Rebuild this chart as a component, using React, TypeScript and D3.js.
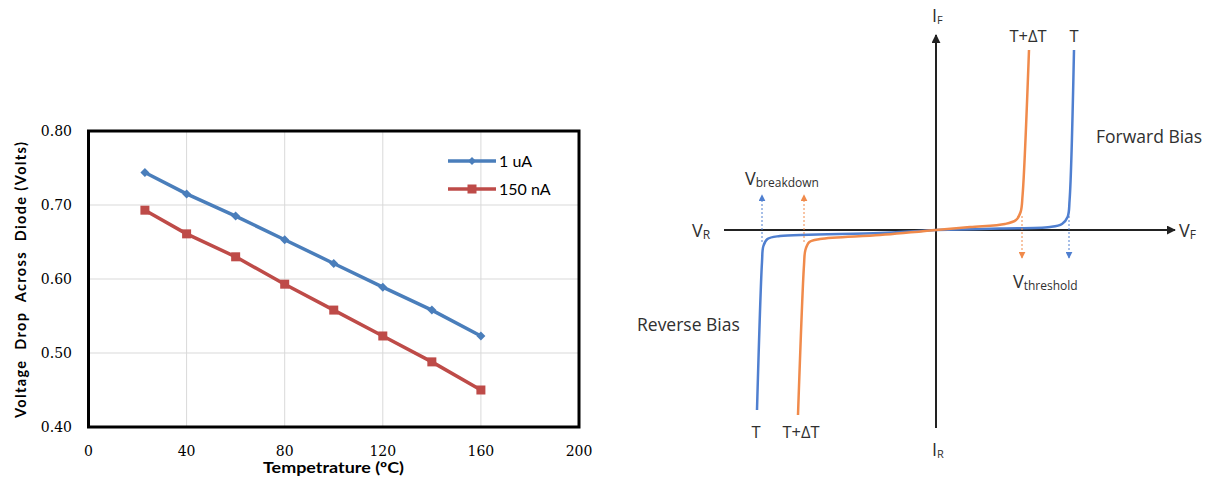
import React from "react";
import * as d3 from "d3";

// ---- Left chart data ----
const temps = [23, 40, 60, 80, 100, 120, 140, 160];
const v1uA = [0.744, 0.715, 0.685, 0.653, 0.621, 0.589, 0.558, 0.523];
const v150nA = [0.693, 0.661, 0.63, 0.593, 0.558, 0.523, 0.488, 0.45];
const xTicks = [0, 40, 80, 120, 160, 200];
const yTicks = [0.4, 0.5, 0.6, 0.7, 0.8];
const seriesNames = ["1 uA", "150 nA"];

// ---- Right diagram data (normalized V, I) ----
const blueForward: [number, number][] = [
  [0, 0], [0.32, 0.0075], [0.57, 0.015], [0.63, 0.03], [0.658, 0.065], [0.668, 0.15], [0.69, 0.9],
];
const orangeForward: [number, number][] = [
  [0, 0], [0.17, 0.015], [0.345, 0.03], [0.4, 0.05], [0.423, 0.09], [0.433, 0.175], [0.465, 0.9],
];
const blueReverse: [number, number][] = [
  [0, 0], [-0.28, -0.015], [-0.78, -0.03], [-0.843, -0.045], [-0.863, -0.08], [-0.87, -0.16], [-0.895, -0.9],
];
const orangeReverse: [number, number][] = [
  [0, 0], [-0.28, -0.025], [-0.58, -0.045], [-0.633, -0.06], [-0.653, -0.1], [-0.66, -0.175], [-0.69, -0.925],
];
const breakdownV = [-0.87, -0.66];
const thresholdV = [0.43, 0.665];

const BLUE = "#4a7ebb";
const RED = "#be4b48";
const DBLUE = "#4f7fd0";
const DORANGE = "#f08a4b";
const TXT = "#303030";
const SERIF = "'DejaVu Serif', 'Liberation Serif', serif";

export default function App() {
  // left scales
  const x = d3.scaleLinear().domain([0, 200]).range([88.5, 579]);
  const y = d3.scaleLinear().domain([0.4, 0.8]).range([427, 131]);
  const line = d3
    .line<[number, number]>()
    .x((d) => x(d[0]))
    .y((d) => y(d[1]));
  const s1 = temps.map((t, i) => [t, v1uA[i]] as [number, number]);
  const s2 = temps.map((t, i) => [t, v150nA[i]] as [number, number]);

  // right scales
  const rx = d3.scaleLinear().domain([-1, 1]).range([736, 1136]);
  const ry = d3.scaleLinear().domain([-1, 1]).range([430, 30]);
  const curve = d3
    .line<[number, number]>()
    .x((d) => rx(d[0]))
    .y((d) => ry(d[1]))
    .curve(d3.curveCatmullRom.alpha(0.5));

  const diamond = (cx: number, cy: number, r: number) =>
    `M${cx},${cy - r}L${cx + r},${cy}L${cx},${cy + r}L${cx - r},${cy}Z`;

  return (
    <svg
      width={1209}
      height={480}
      style={{ position: "absolute", left: 0, top: 0, background: "#fff" }}
    >
      <rect x={0} y={0} width={1209} height={480} fill="#fff" />
      {/* ===== Left chart ===== */}
      {xTicks.slice(1, -1).map((t) => (
        <line key={"gx" + t} x1={x(t)} x2={x(t)} y1={y(0.4)} y2={y(0.8)} stroke="#d9d9d9" strokeWidth={1} />
      ))}
      {yTicks.slice(1, -1).map((t) => (
        <line key={"gy" + t} x1={x(0)} x2={x(200)} y1={y(t)} y2={y(t)} stroke="#d9d9d9" strokeWidth={1} />
      ))}
      <path d={line(s1) || ""} fill="none" stroke={BLUE} strokeWidth={3.5} strokeLinejoin="round" />
      <path d={line(s2) || ""} fill="none" stroke={RED} strokeWidth={3.5} strokeLinejoin="round" />
      {s1.map((d, i) => (
        <path key={"m1" + i} d={diamond(x(d[0]), y(d[1]), 4.5)} fill={BLUE} />
      ))}
      {s2.map((d, i) => (
        <rect key={"m2" + i} x={x(d[0]) - 4.5} y={y(d[1]) - 4.5} width={9} height={9} fill={RED} />
      ))}
      <rect x={x(0)} y={y(0.8)} width={x(200) - x(0)} height={y(0.4) - y(0.8)} fill="none" stroke="#000" strokeWidth={3} />
      {yTicks.map((t) => (
        <text key={"yt" + t} x={72} y={y(t)} dy="0.35em" textAnchor="end" style={{ fontFamily: SERIF }} fontSize={14} fill="#000">
          {t.toFixed(2)}
        </text>
      ))}
      {xTicks.map((t) => (
        <text key={"xt" + t} x={x(t)} y={456} textAnchor="middle" style={{ fontFamily: SERIF }} fontSize={14} fill="#000">
          {t}
        </text>
      ))}
      <text x={333.5} y={473} textAnchor="middle" fontFamily="Lato" fontWeight="bold" fontSize={15} textLength={141} lengthAdjust="spacingAndGlyphs" fill="#000">
        Tempetrature (ºC)
      </text>
      <text
        transform="translate(26,280) rotate(-90)"
        textAnchor="middle"
        fontFamily="Lato"
        fontWeight="bold"
        fontSize={14.5}
        textLength={276}
        lengthAdjust="spacing"
        fill="#000"
        style={{ whiteSpace: "pre" }}
      >
        {"Voltage  Drop  Across  Diode (Volts)"}
      </text>
      {/* legend */}
      <line x1={448} x2={496} y1={161} y2={161} stroke={BLUE} strokeWidth={3.5} />
      <path d={diamond(472, 161, 4)} fill={BLUE} />
      <text x={499} y={161} dy="0.35em" fontFamily="Lato" fontSize={16} fill="#000">{seriesNames[0]}</text>
      <line x1={448} x2={496} y1={189} y2={189} stroke={RED} strokeWidth={3.5} />
      <rect x={467.5} y={184.5} width={9} height={9} fill={RED} />
      <text x={499} y={189} dy="0.35em" fontFamily="Lato" fontSize={16} fill="#000">{seriesNames[1]}</text>

      {/* ===== Right diagram ===== */}
      <defs>
        <marker id="axArrow" viewBox="0 0 10 10" refX={9} refY={5} markerWidth={9} markerHeight={9} markerUnits="userSpaceOnUse" orient="auto">
          <path d="M0,0L10,5L0,10Z" fill="#222" />
        </marker>
        <marker id="bArrow" viewBox="0 0 10 10" refX={9} refY={5} markerWidth={7} markerHeight={7} markerUnits="userSpaceOnUse" orient="auto">
          <path d="M0,0L10,5L0,10Z" fill={DBLUE} />
        </marker>
        <marker id="oArrow" viewBox="0 0 10 10" refX={9} refY={5} markerWidth={7} markerHeight={7} markerUnits="userSpaceOnUse" orient="auto">
          <path d="M0,0L10,5L0,10Z" fill={DORANGE} />
        </marker>
      </defs>
      <line x1={rx(-1.06)} x2={rx(1.195)} y1={ry(0)} y2={ry(0)} stroke="#222" strokeWidth={2} markerEnd="url(#axArrow)" />
      <line x1={rx(0)} x2={rx(0)} y1={ry(-0.99)} y2={ry(0.975)} stroke="#222" strokeWidth={2} markerEnd="url(#axArrow)" />

      <path d={curve(blueForward) || ""} fill="none" stroke={DBLUE} strokeWidth={2.5} />
      <path d={curve(blueReverse) || ""} fill="none" stroke={DBLUE} strokeWidth={2.5} />
      <path d={curve(orangeForward) || ""} fill="none" stroke={DORANGE} strokeWidth={2.5} />
      <path d={curve(orangeReverse) || ""} fill="none" stroke={DORANGE} strokeWidth={2.5} />

      {/* breakdown arrows */}
      {breakdownV.map((v, i) => (
        <line key={"bd" + i} x1={rx(v)} x2={rx(v)} y1={ry(-0.06)} y2={ry(0.175)} stroke={i === 0 ? DBLUE : DORANGE} strokeWidth={1} strokeDasharray="2,2" markerEnd={i === 0 ? "url(#bArrow)" : "url(#oArrow)"} />
      ))}
      {/* threshold arrows */}
      {thresholdV.map((v, i) => (
        <line key={"th" + i} x1={rx(v)} x2={rx(v)} y1={ry(0.07)} y2={ry(-0.14)} stroke={i === 0 ? DORANGE : DBLUE} strokeWidth={1} strokeDasharray="2,2" markerEnd={i === 0 ? "url(#oArrow)" : "url(#bArrow)"} />
      ))}

      <g fontFamily="Open Sans" fill={TXT}>
        <text x={932} y={22} fontSize={18}>I<tspan fontSize={11} dy={2}>F</tspan></text>
        <text x={932} y={456} fontSize={18}>I<tspan fontSize={11} dy={2}>R</tspan></text>
        <text x={692} y={237} fontSize={18}>V<tspan fontSize={12} dy={2}>R</tspan></text>
        <text x={1179} y={237} fontSize={18}>V<tspan fontSize={12} dy={2}>F</tspan></text>
        <text x={745} y={185} fontSize={18}>V<tspan fontSize={12} dy={2}>breakdown</tspan></text>
        <text x={1013} y={288} fontSize={18}>V<tspan fontSize={12} dy={2}>threshold</tspan></text>
        <text x={1096} y={143} fontSize={17.5}>Forward Bias</text>
        <text x={637} y={331} fontSize={17.5}>Reverse Bias</text>
        <text x={1028} y={42} fontSize={16.5} textAnchor="middle">T+ΔT</text>
        <text x={1074} y={42} fontSize={16.5} textAnchor="middle">T</text>
        <text x={756} y={438} fontSize={16.5} textAnchor="middle">T</text>
        <text x={801} y={438} fontSize={16.5} textAnchor="middle">T+ΔT</text>
      </g>
    </svg>
  );
}
